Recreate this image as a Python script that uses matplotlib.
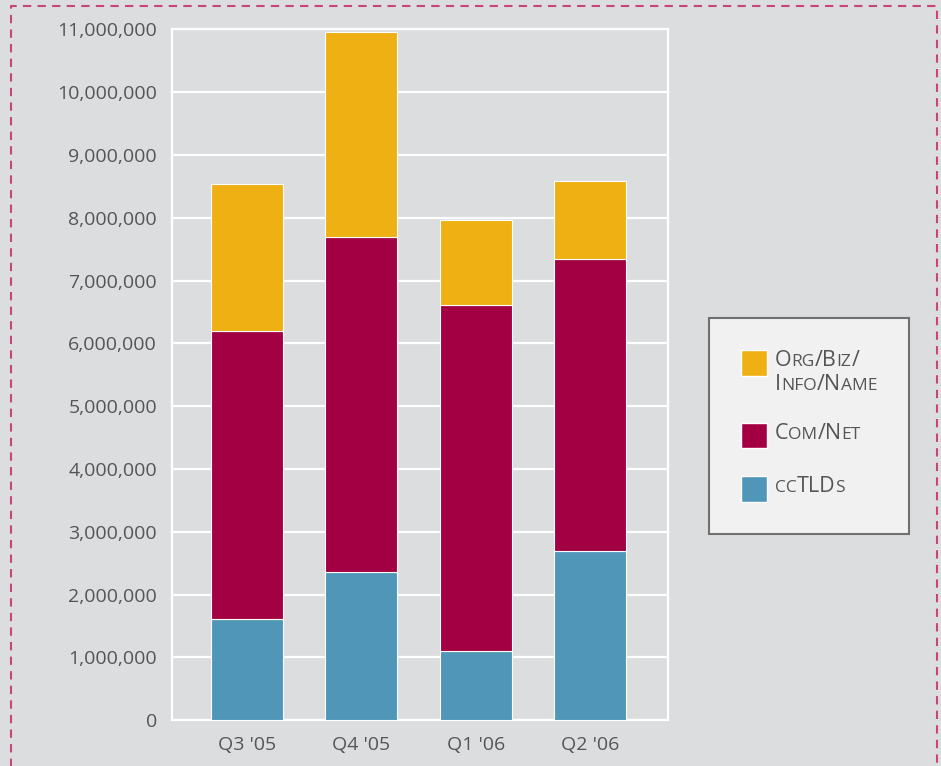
"""
Domain registrations by quarter - stacked bars (ccTLDs, Com/Net, Org/Biz/Info/Name)
"""
import numpy as np
import matplotlib
matplotlib.use('Agg')
import matplotlib.pyplot as plt
from matplotlib.lines import Line2D
from matplotlib.patches import Rectangle
from matplotlib.offsetbox import (AnchoredOffsetbox, DrawingArea, HPacker,
                                  TextArea, VPacker)
from matplotlib.ticker import FuncFormatter

# Data
quarters = ["Q3 '05", "Q4 '05", "Q1 '06", "Q2 '06"]
cctlds = [1620000, 2360000, 1100000, 2700000]
com_net = [4580000, 5340000, 5510000, 4650000]
org_biz = [2330000, 3260000, 1350000, 1240000]

series_labels = ["Org/Biz/\nInfo/Name", "Com/Net", "ccTLDs"]

# Styles
BG = '#dcdddf'
C_ORG = '#eeb012'
C_COM = '#a30044'
C_CC = '#4f96b8'
TXT = '#555555'
FONT = 'Open Sans'

plt.rcParams['font.family'] = [FONT, 'DejaVu Sans']

fig = plt.figure(figsize=(9.41, 7.66), dpi=100, facecolor=BG)
ax = fig.add_axes([0.1831, 0.0597, 0.527, 0.902], facecolor=BG)

x = np.arange(len(quarters))
w = 0.63
cc = np.array(cctlds)
cn = np.array(com_net)
ob = np.array(org_biz)

ax.bar(x, cc, w, color=C_CC, edgecolor='white', linewidth=0.8, zorder=3)
ax.bar(x, cn, w, bottom=cc, color=C_COM, edgecolor='white', linewidth=0.8, zorder=3)
ax.bar(x, ob, w, bottom=cc + cn, color=C_ORG, edgecolor='white', linewidth=0.8, zorder=3)

ax.set_xlim(-0.65, 3.68)
ax.set_ylim(0, 11000000)
ax.set_yticks(np.arange(0, 11000001, 1000000))
ax.yaxis.set_major_formatter(FuncFormatter(lambda v, p: f"{int(v):,}"))
ax.set_xticks(x)
ax.set_xticklabels(quarters)
ax.tick_params(axis='both', length=0, labelsize=14, labelcolor=TXT)
ax.tick_params(axis='y', pad=11)
ax.tick_params(axis='x', pad=11)

ax.grid(axis='y', color='white', linewidth=1.6, zorder=1)
for s in ax.spines.values():
    s.set_color('white')
    s.set_linewidth(1.6)


def smallcaps(text, big=15.5, small=12.5):
    """Fake small caps: lowercase runs drawn as smaller capitals"""
    lines = []
    for line in text.split('\n'):
        runs = []
        for ch in line:
            is_small = ch.islower()
            if runs and runs[-1][1] == is_small:
                runs[-1][0] += ch
            else:
                runs.append([ch, is_small])
        parts = [TextArea(t.upper(), textprops=dict(
                     fontsize=small if sm else big, color=TXT, family=FONT))
                 for t, sm in runs]
        lines.append(HPacker(children=parts, align='baseline', pad=0, sep=0))
    if len(lines) == 1:
        return lines[0]
    return VPacker(children=lines, align='left', pad=0, sep=2)


# Custom legend box
rows = []
for label, color in zip(series_labels, [C_ORG, C_COM, C_CC]):
    da = DrawingArea(18.5, 18.5, 0, 0)
    da.add_artist(Rectangle((0, 0), 18.5, 18.5, facecolor=color,
                            edgecolor='white', linewidth=1))
    rows.append(HPacker(children=[da, smallcaps(label)], align='top', pad=0, sep=6))

box = VPacker(children=rows, align='left', pad=0, sep=20)
anchored = AnchoredOffsetbox(loc='center left', child=box, pad=2.3, borderpad=0,
                             frameon=True, bbox_to_anchor=(709 / 941, 1 - 426 / 766),
                             bbox_transform=fig.transFigure)
anchored.patch.set_facecolor('#f1f1f1')
anchored.patch.set_edgecolor('#707070')
anchored.patch.set_linewidth(1.5)
fig.add_artist(anchored)

# Dashed page border
border = Line2D([11 / 941, 11 / 941, 937 / 941, 937 / 941],
                [-0.02, 1 - 6 / 766, 1 - 6 / 766, -0.02],
                transform=fig.transFigure, color='#c8457c', linewidth=1.5,
                linestyle=(0, (4, 3)))
fig.add_artist(border)

fig.savefig('out.png', dpi=100, facecolor=BG)
